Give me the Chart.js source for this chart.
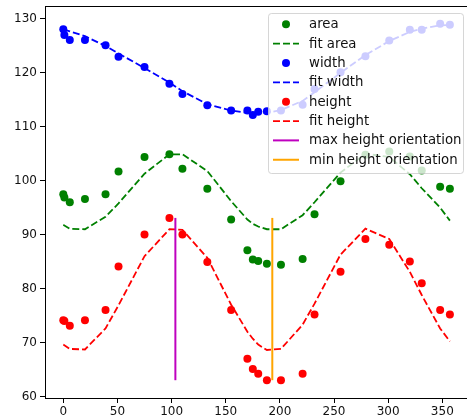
<!DOCTYPE html>
<html>
<head>
<meta charset="utf-8">
<script src="https://cdn.jsdelivr.net/npm/chart.js@4.4.1/dist/chart.umd.min.js"></script>
<style>
  html, body { margin: 0; padding: 0; background: #fff; overflow: hidden; }
  #wrap { position: relative; width: 467px; height: 420px; }
</style>
</head>
<body>
<div id="wrap"><canvas id="c" width="467" height="420"></canvas></div>
<script>
// Orientation angles (degrees) at which the object was measured
const angles = [0, 1, 6, 20, 39, 51, 75, 98, 110, 133, 155, 170, 175, 180, 188, 201, 221, 232, 256, 279, 301, 320, 331, 348, 357];

// Measured values
const area   = [97.5, 96.9, 96.0, 96.6, 97.5, 101.7, 104.4, 104.9, 102.2, 98.5, 92.8, 87.1, 85.4, 85.1, 84.6, 84.4, 85.5, 93.8, 99.9, 104.8, 105.4, 104.5, 101.9, 98.9, 98.5];
const width  = [128.1, 127.0, 126.1, 126.1, 125.1, 123.0, 121.1, 118.0, 116.1, 114.0, 113.0, 113.0, 112.2, 112.8, 112.9, 113.0, 114.1, 117.0, 120.1, 123.1, 126.0, 128.0, 128.0, 129.1, 128.9];
const height = [74.1, 74.0, 73.1, 74.1, 76.0, 84.1, 90.0, 93.1, 90.0, 84.9, 76.0, 67.0, 65.1, 64.2, 63.0, 63.0, 64.2, 75.2, 83.1, 89.2, 88.1, 85.0, 81.0, 76.0, 75.2];

// Fitted curves evaluated at the same angles
const fitArea   = [91.8, 91.7, 91.1, 91.0, 93.3, 95.8, 101.3, 104.9, 104.9, 101.8, 96.2, 92.8, 92.0, 91.5, 91.0, 91.0, 93.6, 96.0, 101.5, 105.0, 104.4, 101.2, 98.6, 95.0, 92.6];
const fitWidth  = [128.0, 128.0, 127.7, 126.8, 125.0, 123.6, 120.9, 118.2, 116.6, 114.2, 113.0, 112.6, 112.5, 112.5, 112.6, 113.1, 114.8, 116.4, 120.0, 123.3, 125.9, 127.6, 128.2, 128.8, 128.9];
const fitHeight = [69.6, 69.5, 68.8, 68.7, 72.6, 76.9, 86.0, 91.0, 90.9, 85.7, 77.0, 72.0, 70.7, 69.6, 68.6, 68.8, 73.3, 77.2, 86.3, 91.1, 89.2, 83.1, 78.8, 72.6, 70.2];

// Orientations of the fitted height extrema
const maxHeightOrientation = 103.5;
const minHeightOrientation = 193;

// Axis ticks
const xTicks = [0, 50, 100, 150, 200, 250, 300, 350];
const yTicks = [60, 70, 80, 90, 100, 110, 120, 130];

const FONT = "'DejaVu Sans', 'Liberation Sans', sans-serif";
const pts = (ys) => angles.map((a, i) => ({ x: a, y: ys[i] }));
const hMin = Math.min(...height), hMax = Math.max(...height);

const scatterSet = (label, ys, color) => ({
  label, data: pts(ys), showLine: false,
  pointRadius: 4, pointHoverRadius: 4, pointBorderWidth: 0,
  pointBackgroundColor: color, borderColor: color, backgroundColor: color,
  kind: 'marker'
});
const fitSet = (label, ys, color) => ({
  label, data: pts(ys), showLine: true, fill: false, tension: 0,
  pointRadius: 0, pointHoverRadius: 0, borderWidth: 1.8, borderDash: [7, 3],
  borderColor: color, backgroundColor: color, kind: 'line'
});
const vSet = (label, x, color) => ({
  label, data: [{ x, y: hMin }, { x, y: hMax }], showLine: true, fill: false,
  pointRadius: 0, pointHoverRadius: 0, borderWidth: 2,
  borderColor: color, backgroundColor: color, kind: 'line'
});

const datasets = [
  scatterSet('area', area, '#008000'),
  fitSet('fit area', fitArea, '#008000'),
  scatterSet('width', width, '#0000ff'),
  fitSet('fit width', fitWidth, '#0000ff'),
  scatterSet('height', height, '#ff0000'),
  fitSet('fit height', fitHeight, '#ff0000'),
  vSet('max height orientation', maxHeightOrientation, '#bf00bf'),
  vSet('min height orientation', minHeightOrientation, '#ffa500')
];
// later datasets are painted on top
datasets.forEach((d, i) => { d.order = datasets.length - i; });

// top spine of the axes frame
const topSpine = {
  id: 'topSpine',
  afterDraw(chart) {
    const { ctx, chartArea: a } = chart;
    ctx.save();
    ctx.strokeStyle = '#000';
    ctx.lineWidth = 1;
    ctx.beginPath();
    ctx.moveTo(a.left, Math.round(a.top) + 0.5);
    ctx.lineTo(a.right, Math.round(a.top) + 0.5);
    ctx.stroke();
    ctx.restore();
  }
};

// framed, translucent legend in the upper right of the plot area
const frameLegend = {
  id: 'frameLegend',
  afterDraw(chart) {
    const { ctx, chartArea: a } = chart;
    const sets = chart.data.datasets;
    const w = 195, h = 160;
    const x0 = a.right - 4 - w, y0 = a.top + 7;
    const rowH = 19.35, firstRow = 11.3;
    ctx.save();
    ctx.beginPath();
    ctx.roundRect(x0 + 0.5, y0 + 0.5, w, h, 3);
    ctx.fillStyle = 'rgba(255,255,255,0.8)';
    ctx.fill();
    ctx.strokeStyle = 'rgba(204,204,204,0.8)';
    ctx.lineWidth = 1;
    ctx.stroke();

    ctx.font = `13.3px ${FONT}`;
    ctx.textBaseline = 'middle';
    ctx.textAlign = 'left';
    sets.forEach((d, i) => {
      const cy = y0 + firstRow + i * rowH;
      const hx0 = x0 + 5, hx1 = x0 + 31;
      if (d.kind === 'marker') {
        ctx.beginPath();
        ctx.arc((hx0 + hx1) / 2, cy, 4, 0, Math.PI * 2);
        ctx.fillStyle = d.pointBackgroundColor;
        ctx.fill();
      } else {
        ctx.beginPath();
        ctx.setLineDash(d.borderDash || []);
        ctx.strokeStyle = d.borderColor;
        ctx.lineWidth = d.borderWidth;
        ctx.moveTo(hx0, cy);
        ctx.lineTo(hx1, cy);
        ctx.stroke();
        ctx.setLineDash([]);
      }
      ctx.fillStyle = '#111';
      ctx.fillText(d.label, x0 + 41, cy + 0.5);
    });
    ctx.restore();
  }
};

const axisCommon = {
  type: 'linear',
  grid: { drawOnChartArea: false, drawTicks: true, tickLength: 5, tickColor: '#000', tickWidth: 1 },
  border: { display: true, color: '#000', width: 1 },
  ticks: { color: '#111', font: { family: FONT, size: 12 }, autoSkip: false, maxRotation: 0 }
};

// keep the plot area edges fixed regardless of label overhang
const noLabelPadding = (s) => {
  s.paddingLeft = 0; s.paddingRight = 0; s.paddingTop = 0; s.paddingBottom = 0;
};

new Chart(document.getElementById('c'), {
  type: 'scatter',
  data: { datasets },
  options: {
    responsive: false,
    animation: false,
    devicePixelRatio: 1,
    layout: { autoPadding: false, padding: { top: 6, left: 0, right: 0, bottom: 0 } },
    plugins: { legend: { display: false }, tooltip: { enabled: false } },
    events: [],
    scales: {
      x: Object.assign({}, axisCommon, {
        position: 'bottom',
        min: -16.9, max: 372.8,
        ticks: Object.assign({}, axisCommon.ticks, { padding: 2 }),
        afterBuildTicks: (s) => { s.ticks = xTicks.map(v => ({ value: v })); },
        afterFit: (s) => { s.height = 22; noLabelPadding(s); }
      }),
      y: Object.assign({}, axisCommon, {
        position: 'left',
        min: 59.7, max: 132.4,
        ticks: Object.assign({}, axisCommon.ticks, { padding: 3 }),
        afterBuildTicks: (s) => { s.ticks = yTicks.map(v => ({ value: v })); },
        afterFit: (s) => { s.width = 45; noLabelPadding(s); }
      })
    }
  },
  plugins: [topSpine, frameLegend]
});
</script>
</body>
</html>
